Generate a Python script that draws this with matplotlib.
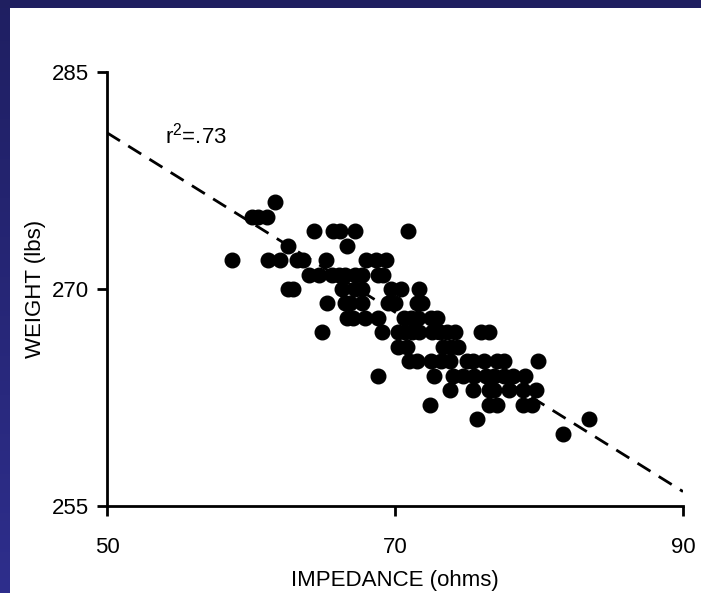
import numpy as np
import matplotlib.pyplot as plt
from matplotlib.patches import Rectangle

plt.rcParams['font.family'] = ['Liberation Sans', 'DejaVu Sans']
plt.rcParams['mathtext.fontset'] = 'custom'
plt.rcParams['mathtext.rm'] = 'Liberation Sans'
plt.rcParams['mathtext.it'] = 'Liberation Sans'

# data (weight in whole lbs, impedance in ohms)
impedance = [
    61.7,
    60.1, 60.5, 61.1,
    64.4, 65.7, 66.2, 67.2, 70.9,
    62.6, 66.7,
    58.7, 61.2, 62.0, 63.2, 63.6, 65.2, 68.0, 68.7, 69.4,
    64.0, 64.7, 65.6, 66.1, 66.5, 67.2, 67.7, 68.8, 69.2,
    62.6, 62.9, 66.3, 67.2, 67.7, 69.7, 70.4, 71.7,
    65.3, 66.5, 66.9, 67.7, 69.5, 70.0, 71.5, 71.9,
    66.7, 67.1, 67.9, 68.8, 70.6, 71.1, 71.6, 72.5, 72.9,
    64.9, 69.1, 70.2, 70.7, 71.2, 71.7, 72.6, 73.1, 73.6, 74.2, 76.0, 76.5,
    70.2, 70.8, 73.3, 73.9, 74.4,
    71.0, 71.5, 72.5, 73.2, 73.8, 75.0, 75.4, 76.2, 77.1, 77.6, 79.9,
    68.8, 72.7, 74.0, 74.7, 75.5, 76.3, 76.9, 77.6, 78.2, 79.0,
    73.8, 75.4, 76.5, 76.9, 77.9, 78.9, 79.8,
    72.4, 76.5, 77.1, 78.9, 79.5,
    75.7, 83.5,
    81.7,
]
weight = (
    [276] * 1 + [275] * 3 + [274] * 5 + [273] * 2 + [272] * 9 + [271] * 9
    + [270] * 8 + [269] * 8 + [268] * 9 + [267] * 12 + [266] * 5
    + [265] * 11 + [264] * 10 + [263] * 7 + [262] * 5 + [261] * 2 + [260] * 1
)

fit_x = [50, 90]
fit_y = [280.8, 256.0]
r2_label = r"r$^{2}$=.73"

fig = plt.figure(figsize=(7.01, 5.93), dpi=100)

# dark slide frame on the left and top
navy = fig.add_axes([0, 0, 10 / 701, 1])
grad = np.linspace(0, 1, 256).reshape(-1, 1)
navy.imshow(grad, aspect='auto', cmap=plt.matplotlib.colors.LinearSegmentedColormap.from_list(
    'nv', ['#2e2e8c', '#1f1f62']), origin='lower', extent=[0, 1, 0, 1])
navy.axis('off')
fig.patches.append(Rectangle((0, 1 - 7.5 / 593), 1, 7.5 / 593, transform=fig.transFigure,
                             facecolor='#1f1f60', edgecolor='none', zorder=5))

ax = fig.add_axes([107 / 701, 1 - 506 / 593, 576 / 701, 434 / 593])
ax.plot(impedance, weight, 'o', color='black', ms=10.5, mec='black', zorder=3)
ax.plot(fit_x, fit_y, color='black', lw=2, dashes=(5.5, 3.5), zorder=2)
ax.text(54, 280.6, r2_label, fontsize=16, va='center', ha='left')

ax.set_xlim(50, 90)
ax.set_ylim(255, 285)
ax.set_xticks([50, 70, 90])
ax.set_yticks([255, 270, 285])
ax.spines['top'].set_visible(False)
ax.spines['right'].set_visible(False)
for s in ('left', 'bottom'):
    ax.spines[s].set_linewidth(2)
ax.tick_params(direction='out', length=7, width=2, labelsize=16)
ax.tick_params(axis='x', pad=15)
ax.tick_params(axis='y', pad=6)
ax.set_xlabel("IMPEDANCE (ohms)", fontsize=16, labelpad=9)
ax.set_ylabel("WEIGHT (lbs)", fontsize=16, labelpad=4)

fig.savefig("out.png", dpi=100)
